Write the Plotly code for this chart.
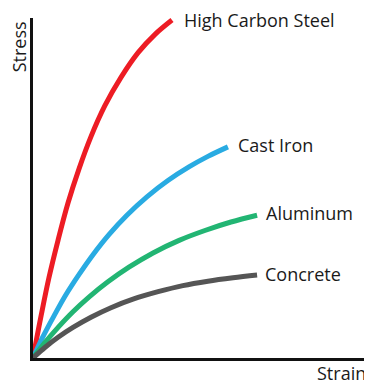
import plotly.graph_objects as go

# Strain / stress readings (axis units 0-100)
materials = ["High Carbon Steel", "Cast Iron", "Aluminum", "Concrete"]
colors = ["#ED1C24", "#29ABE2", "#22B573", "#555555"]

steel_strain = [0, 2.4, 4.7, 7.4, 10.3, 13.6, 17.1, 21.2, 26.0, 31.0, 36.0, 41.0]
steel_stress = [0, 12.5, 23.6, 34.7, 45.5, 55.7, 65.1, 74.2, 82.6, 89.8, 95.2, 99.4]

iron_strain = [0, 2.9, 6.2, 9.7, 13.6, 17.7, 22.4, 27.7, 33.6, 39.8, 46.0, 51.6, 57.5]
iron_stress = [0, 6.2, 12.4, 18.6, 24.6, 30.4, 36.3, 42.0, 47.4, 52.2, 56.2, 59.3, 62.1]

alu_strain = [0, 3.5, 7.4, 11.8, 16.5, 22.1, 28.3, 35.4, 43.1, 50.7, 58.4, 66.1]
alu_stress = [0, 4.5, 9.0, 13.6, 17.9, 22.4, 26.7, 30.9, 34.6, 37.5, 40.0, 42.0]

conc_strain = [0, 3.5, 7.4, 11.8, 17.1, 23.0, 29.5, 36.9, 44.2, 51.6, 59.0, 66.1]
conc_stress = [0, 3.1, 6.1, 9.0, 12.0, 14.8, 17.3, 19.5, 21.3, 22.6, 23.6, 24.4]

series = [
    (steel_strain, steel_stress),
    (iron_strain, iron_stress),
    (alu_strain, alu_stress),
    (conc_strain, conc_stress),
]
label_shift = [(10, 0), (8, 2), (7, 2), (6, 1)]

FONT = "Open Sans"
TXT = "#1a1a1a"
fig = go.Figure()
annotations = []
for name, color, (xs, ys), (dx, dy) in zip(materials, colors, series, label_shift):
    fig.add_trace(go.Scatter(
        x=xs, y=ys, mode="lines", name=name,
        line=dict(color=color, width=5, shape="spline", smoothing=1.0),
        hoverinfo="skip", cliponaxis=False,
    ))
    annotations.append(dict(
        x=xs[-1], y=ys[-1], xref="x", yref="y", text=name, showarrow=False,
        xanchor="left", yanchor="middle", xshift=dx, yshift=dy,
        font=dict(family=FONT, size=18, color=TXT),
    ))

annotations.append(dict(
    x=-0.043, y=0.915, xref="paper", yref="paper", text="Stress", showarrow=False,
    textangle=-90, xanchor="center", yanchor="middle", borderpad=0,
    font=dict(family=FONT, size=18, color=TXT),
))
annotations.append(dict(
    x=1, y=-0.045, xref="paper", yref="paper", text="Strain", showarrow=False,
    xanchor="right", yanchor="middle", xshift=-5, borderpad=0,
    font=dict(family=FONT, size=18, color=TXT),
))

# page body has an 8px margin, so the figure is 8px smaller and margins shifted
fig.update_layout(
    width=364, height=377,
    margin=dict(l=25, r=0, t=10, b=27),
    paper_bgcolor="white", plot_bgcolor="white",
    showlegend=False,
    annotations=annotations,
)
fig.update_xaxes(range=[0, 100], showgrid=False, zeroline=False, showticklabels=False,
                 ticks="", showline=True, linecolor="#111111", linewidth=2.5)
fig.update_yaxes(range=[0, 100], showgrid=False, zeroline=False, showticklabels=False,
                 ticks="", showline=True, linecolor="#111111", linewidth=2.5)

fig.write_html("out.html")
